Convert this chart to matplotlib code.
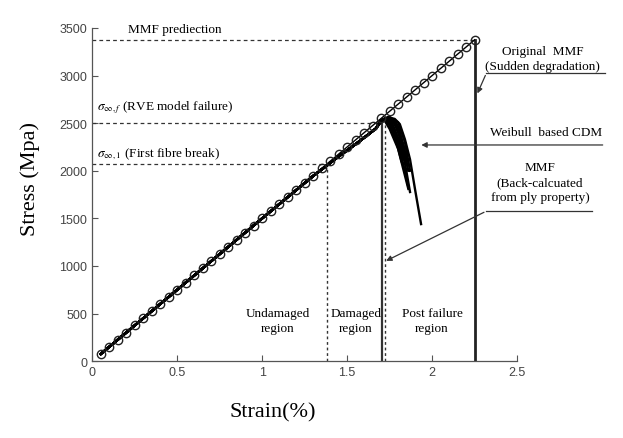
import matplotlib
matplotlib.use("Agg")
import matplotlib.pyplot as plt

plt.rcParams['mathtext.fontset'] = 'stix'

# MMF (original) linear prediction, circles
mmf_strain = [0.05, 0.10, 0.15, 0.20, 0.25, 0.30, 0.35, 0.40, 0.45, 0.50,
              0.55, 0.60, 0.65, 0.70, 0.75, 0.80, 0.85, 0.90, 0.95, 1.00,
              1.05, 1.10, 1.15, 1.20, 1.25, 1.30, 1.35, 1.40, 1.45, 1.50,
              1.55, 1.60, 1.65, 1.70, 1.75, 1.80, 1.85, 1.90, 1.95, 2.00,
              2.05, 2.10, 2.15, 2.20, 2.25]
mmf_stress = [75, 150, 225, 300, 375, 450, 525, 600, 675, 750,
              825, 900, 975, 1050, 1125, 1200, 1275, 1350, 1425, 1500,
              1575, 1650, 1725, 1800, 1875, 1950, 2025, 2100, 2175, 2250,
              2325, 2400, 2475, 2550, 2625, 2700, 2775, 2850, 2925, 3000,
              3075, 3150, 3225, 3300, 3375]

# Weibull based CDM, common rising part
cdm_rise_strain = [0.05, 0.5, 1.0, 1.3, 1.45, 1.55, 1.62, 1.67]
cdm_rise_stress = [75, 750, 1500, 1945, 2150, 2280, 2375, 2445]

# post-peak branches of the CDM runs
cdm_tail_strain = [
    [1.70, 1.74, 1.78, 1.81, 1.84, 1.87, 1.90, 1.935],
    [1.69, 1.72, 1.75, 1.80, 1.83, 1.86],
    [1.70, 1.73, 1.77, 1.81, 1.84, 1.87],
    [1.70, 1.73, 1.76, 1.80, 1.83, 1.86],
    [1.70, 1.74, 1.78, 1.82, 1.85],
    [1.69, 1.72, 1.76, 1.79, 1.82],
    [1.70, 1.74, 1.79, 1.83, 1.86],
    [1.71, 1.75, 1.80, 1.835, 1.85],
    [1.70, 1.73, 1.77, 1.80, 1.83],
    [1.70, 1.74, 1.79, 1.82, 1.845],
    [1.69, 1.72, 1.75, 1.78, 1.81],
    [1.71, 1.75, 1.80, 1.84, 1.87],
    [1.70, 1.73, 1.78, 1.815, 1.85],
    [1.70, 1.74, 1.775, 1.805, 1.835],
]
cdm_tail_stress = [
    [2530, 2560, 2545, 2490, 2330, 2120, 1800, 1440],
    [2510, 2530, 2440, 2230, 2020, 1810],
    [2525, 2550, 2480, 2300, 2080, 1777],
    [2520, 2545, 2470, 2280, 2070, 1830],
    [2530, 2555, 2500, 2310, 2100],
    [2515, 2540, 2470, 2300, 2100],
    [2535, 2560, 2480, 2240, 2000],
    [2540, 2560, 2460, 2250, 2080],
    [2525, 2550, 2460, 2300, 2120],
    [2530, 2560, 2500, 2330, 2150],
    [2515, 2540, 2480, 2360, 2200],
    [2540, 2565, 2510, 2300, 2000],
    [2520, 2550, 2490, 2340, 2060],
    [2525, 2555, 2520, 2400, 2180],
]

# characteristic levels
mmf_peak = (2.25, 3375)
first_break = (1.38, 2070)
rve_failure = (1.72, 2500)
back_calc_strain = 1.705
back_calc_top = 2530

x_ticks = [0, 0.5, 1, 1.5, 2, 2.5]
x_labels = ['0', '0.5', '1', '1.5', '2', '2.5']
y_ticks = [0, 500, 1000, 1500, 2000, 2500, 3000, 3500]

serif = 'Liberation Serif'

fig = plt.figure(figsize=(6.23, 4.39), dpi=100)
ax = fig.add_axes([0.148, 0.175, 0.682, 0.759])

# CDM bundle
for s, t in zip(cdm_tail_strain, cdm_tail_stress):
    ax.plot(cdm_rise_strain + s, cdm_rise_stress + t, color='black', lw=1.7, zorder=3)

ax.plot(mmf_strain, mmf_stress, '-o', color='black', lw=1.0, markersize=6,
        markerfacecolor='none', markeredgecolor='#222222', markeredgewidth=1.0, zorder=4)

# reference lines
dash = (0, (3, 2.5))
ax.plot([0, mmf_peak[0]], [mmf_peak[1], mmf_peak[1]], color='#333333', lw=0.9, ls=dash)
ax.plot([0, 1.69], [rve_failure[1], rve_failure[1]], color='#333333', lw=0.9, ls=dash)
ax.plot([0, first_break[0]], [first_break[1], first_break[1]], color='#333333', lw=0.9, ls=dash)
ax.plot([first_break[0], first_break[0]], [0, first_break[1]], color='#333333', lw=1.0, ls=(0, (2, 2)))
ax.plot([rve_failure[0], rve_failure[0]], [0, rve_failure[1]], color='#333333', lw=1.0, ls=(0, (2, 2)))
ax.plot([back_calc_strain, back_calc_strain], [0, back_calc_top], color='#333333', lw=1.6)
ax.plot([mmf_peak[0], mmf_peak[0]], [0, mmf_peak[1]], color='#222222', lw=2.0)

# texts inside plot
ax.text(0.21, 3490, 'MMF prediection', family=serif, fontsize=9.5, va='center')
ax.text(0.03, 2670, r'$\sigma_{\infty,f}$ (RVE model failure)', family=serif, fontsize=9.5, va='center')
ax.text(0.03, 2187, r'$\sigma_{\infty,1}$ (First fibre break)', family=serif, fontsize=9.5, va='center')
ax.text(1.09, 426, 'Undamaged\nregion', family=serif, fontsize=9.5, ha='center', va='center', linespacing=1.4)
ax.text(1.55, 426, 'Damaged\nregion', family=serif, fontsize=9.5, ha='center', va='center', linespacing=1.4)
ax.text(2.0, 426, 'Post failure\nregion', family=serif, fontsize=9.5, ha='center', va='center', linespacing=1.4)

# callouts to the right
ax.text(2.65, 3180, 'Original  MMF\n(Sudden degradation)', family=serif, fontsize=9.5,
        ha='center', va='center', linespacing=1.3, clip_on=False)
ax.plot([2.32, 3.02], [3028, 3028], color='#333333', lw=0.9, clip_on=False)
ax.annotate('', xy=(2.26, 2786), xytext=(2.32, 3028), annotation_clip=False,
            arrowprops=dict(arrowstyle='-|>', color='#333333', lw=0.9, mutation_scale=8))

ax.text(3.0, 2408, 'Weibull  based CDM', family=serif, fontsize=9.5, ha='right', va='center', clip_on=False)
ax.annotate('', xy=(1.92, 2271), xytext=(3.02, 2271), annotation_clip=False,
            arrowprops=dict(arrowstyle='-|>', color='#333333', lw=0.9, mutation_scale=8))

ax.text(2.635, 1882, 'MMF\n(Back-calcuated\nfrom ply property)', family=serif, fontsize=9.5,
        ha='center', va='center', linespacing=1.3, clip_on=False)
ax.plot([2.32, 2.94], [1577, 1577], color='#333333', lw=0.9, clip_on=False)
ax.annotate('', xy=(1.715, 1041), xytext=(2.32, 1577), annotation_clip=False,
            arrowprops=dict(arrowstyle='-|>', color='#333333', lw=0.9, mutation_scale=8))

ax.set_xlim(0, 2.5)
ax.set_ylim(0, 3500)
ax.spines['top'].set_visible(False)
ax.spines['right'].set_visible(False)
for sp in ['left', 'bottom']:
    ax.spines[sp].set_color('#555555')
    ax.spines[sp].set_linewidth(0.9)
ax.set_xticks(x_ticks)
ax.set_xticklabels(x_labels)
ax.set_yticks(y_ticks)
ax.tick_params(direction='in', length=4, width=0.8, colors='#555555', labelcolor='#444444',
               labelsize=9)
for lab in ax.get_xticklabels() + ax.get_yticklabels():
    lab.set_family('Liberation Sans')

fig.text(30 / 623, 1 - 179 / 439, 'Stress (Mpa)', family=serif, fontsize=16,
         rotation=90, ha='center', va='center')
fig.text(273 / 623, 1 - 413 / 439, 'Strain(%)', family=serif, fontsize=16,
         ha='center', va='center')

fig.savefig('out.png', dpi=100)
